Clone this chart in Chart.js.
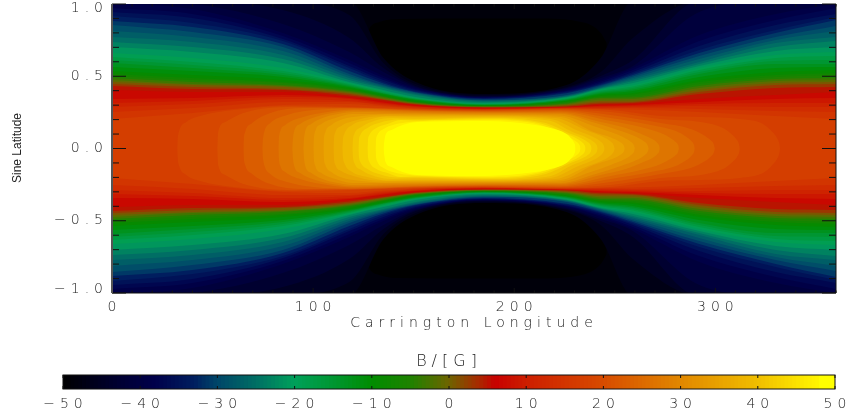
<!DOCTYPE html>
<html>
<head>
  <meta charset="UTF-8">
  <title>B / [G]</title>
  <script src="https://cdn.jsdelivr.net/npm/chart.js"></script>
  <style>
    html, body { margin: 0; padding: 0; background: #fff; overflow: hidden; }
    canvas { position: absolute; left: 0; }
    #mapChart { top: 0; }
    #barChart { top: 345px; }
  </style>
</head>
<body>
  <canvas id="mapChart" width="850" height="345"></canvas>
  <canvas id="barChart" width="850" height="67"></canvas>

  <script>
const lons = [0, 40, 85, 118, 135, 151, 185, 226, 243, 259, 292, 330, 360];

// B levels of the open contours, lat of the upper branch at each longitude
const openLevels = [-48, -46, -44, -42, -40, -38, -36, -34, -32, -30, -28, -26, -24, -22, -20, -18, -16,
  -14, -12, -10, -8, -6, -4, -2, 0, 2, 4, 6, 8, 10, 12, 14, 16];
const openLats = [
  [1.02, 1.02, 1.02, 1.02, .626, .46, .377, .439, .626, 1.02, 1.02, 1.02, 1.02],
  [1.02, 1.02, 1.014, .924, .592, .446, .37, .426, .529, .765, 1.02, 1.02, 1.02],
  [1.02, 1.02, .958, .765, .557, .433, .363, .419, .502, .612, 1.02, 1.02, 1.02],
  [1.02, 1.0, .862, .668, .529, .426, .36, .412, .488, .571, .945, 1.02, 1.02],
  [1.007, .965, .799, .612, .502, .419, .356, .405, .474, .557, .785, .931, 1.0],
  [.972, .931, .779, .592, .488, .412, .353, .399, .464, .543, .744, .889, .972],
  [.945, .903, .758, .571, .474, .405, .349, .394, .453, .529, .709, .855, .931],
  [.917, .869, .744, .557, .46, .398, .346, .388, .446, .519, .682, .82, .91],
  [.882, .841, .723, .536, .45, .391, .343, .383, .439, .509, .661, .799, .889],
  [.855, .806, .702, .516, .439, .388, .336, .37, .433, .498, .64, .772, .848],
  [.813, .772, .675, .502, .433, .384, .332, .366, .426, .488, .619, .751, .813],
  [.772, .737, .647, .488, .426, .377, .329, .362, .421, .477, .599, .73, .772],
  [.737, .702, .619, .474, .419, .37, .322, .358, .417, .467, .585, .702, .744],
  [.702, .668, .592, .46, .405, .356, .315, .354, .412, .453, .571, .675, .702],
  [.661, .626, .557, .453, .398, .349, .308, .349, .407, .439, .557, .647, .668],
  [.633, .599, .536, .446, .391, .346, .306, .345, .4, .429, .543, .626, .64],
  [.612, .578, .522, .439, .384, .343, .304, .341, .393, .419, .529, .606, .612],
  [.592, .557, .509, .433, .381, .339, .302, .337, .386, .408, .516, .585, .585],
  [.564, .536, .495, .426, .377, .336, .3, .333, .379, .398, .495, .557, .564],
  [.536, .509, .474, .419, .37, .329, .298, .329, .37, .384, .474, .529, .543],
  [.516, .488, .46, .412, .363, .325, .296, .323, .363, .374, .46, .509, .522],
  [.502, .474, .453, .405, .36, .322, .294, .318, .356, .363, .446, .495, .509],
  [.488, .46, .439, .398, .356, .318, .292, .312, .349, .353, .433, .481, .488],
  [.474, .446, .433, .391, .349, .315, .29, .307, .339, .343, .419, .467, .474],
  [.46, .439, .426, .384, .343, .311, .287, .301, .329, .332, .405, .453, .46],
  [.446, .426, .412, .377, .339, .308, .285, .296, .318, .322, .391, .439, .446],
  [.433, .412, .405, .367, .336, .304, .283, .289, .31, .315, .377, .419, .426],
  [.405, .391, .391, .356, .325, .301, .28, .287, .301, .308, .343, .37, .391],
  [.343, .349, .37, .349, .318, .294, .277, .285, .295, .301, .322, .343, .349],
  [.315, .329, .356, .343, .311, .291, .274, .283, .29, .294, .308, .315, .315],
  [.287, .308, .343, .329, .304, .287, .272, .281, .284, .287, .294, .287, .287],
  [.253, .28, .322, .322, .298, .28, .27, .279, .279, .28, .273, .26, .253],
  [.204, .246, .301, .308, .291, .277, .268, .277, .273, .27, .253, .225, .204]
];

// contours that close around the bright core, each with its own longitudes
const closedLevels = [18, 20, 22, 24, 26, 28, 30, 32, 34, 36, 38, 40, 42, 44, 46, 48];
const closedLons = [
  [32.4, 32.6, 33.4, 36.9, 43.8, 60.3, 90.1, 120, 150.4, 185.3, 223.1, 248, 272.9, 292.8, 312.2, 323.7, 328.4, 330.8, 331.8, 332.2],
  [52.3, 52.5, 52.8, 56.3, 65.3, 90.1, 120, 150.4, 185.3, 223.1, 248, 272.9, 292.8, 303.8, 308, 310.7, 311.8, 312.2],
  [65.3, 65.5, 66.2, 69.7, 78.7, 95.1, 120, 150.4, 185.3, 223.1, 248, 272.9, 287.8, 294.5, 297.4, 299.2, 299.8],
  [74.7, 75, 75.7, 78.7, 87.1, 100.1, 120, 150.4, 185.3, 223.1, 248, 268, 280.4, 285.7, 288.2, 289.4, 289.8],
  [82.7, 82.9, 83.7, 86.2, 95.1, 107.1, 120, 150.4, 185.3, 223.1, 248, 262.9, 272.9, 278, 280.3, 281.6, 281.9],
  [89.6, 89.9, 90.6, 93.6, 101.1, 111.1, 120, 150.4, 185.3, 223.1, 243, 255.5, 265.4, 269.3, 271.4, 272.2, 272.4],
  [95.1, 95.4, 96.1, 99.1, 106.1, 113.5, 120, 150.4, 185.3, 223.1, 240.5, 253, 260.9, 264.5, 266.3, 266.9],
  [100.1, 100.3, 101.1, 104.1, 111.1, 120, 150.4, 185.3, 223.1, 238, 248, 254.8, 258.1, 259.6, 260],
  [105.1, 105.3, 106.1, 109.1, 115, 120, 136, 150.4, 185.3, 223.1, 239.5, 248.3, 252.6, 254.5, 255],
  [110.1, 110.3, 111.1, 114, 120, 131, 150.4, 185.3, 220.6, 235.5, 244.3, 247.8, 249.4, 250],
  [114.5, 114.8, 115.5, 119.5, 127, 137, 150.4, 185.3, 218.1, 232, 239.3, 242.8, 244.4, 245],
  [119.5, 119.8, 120.5, 124, 131, 139.5, 150.4, 185.3, 217.1, 229, 236.1, 239.6, 241.1, 241.5],
  [122.5, 122.8, 123.5, 127, 133.5, 142, 150.4, 185.3, 215.6, 227, 233.6, 236.5, 238.1, 238.5],
  [127, 127.3, 128, 131.5, 137, 143.5, 150.4, 185.3, 214.1, 225, 231, 233.6, 235.1, 235.5],
  [131, 131.3, 132, 135.5, 140.5, 146, 150.4, 185.3, 213.1, 223.6, 228.4, 231.1, 232.6, 233],
  [135, 135.3, 136, 139, 142, 147, 152, 185.3, 210.6, 218.1, 226, 228.3, 229.8, 230.3, 230.5]
];
const closedLats = [
  [0, .059, .121, .183, .225, .266, .294, .287, .273, .266, .273, .266, .225, .218, .204, .17, .114, .07, .035, 0],
  [0, .059, .114, .183, .246, .287, .284, .27, .263, .27, .253, .204, .183, .142, .1, .06, .03, 0],
  [0, .059, .114, .176, .246, .28, .28, .266, .26, .266, .232, .176, .135, .09, .06, .03, 0],
  [0, .059, .114, .176, .232, .266, .277, .263, .256, .26, .211, .163, .121, .08, .05, .025, 0],
  [0, .059, .121, .163, .218, .253, .27, .26, .253, .253, .19, .149, .107, .07, .045, .02, 0],
  [0, .059, .121, .17, .218, .249, .263, .253, .248, .246, .183, .142, .087, .06, .035, .015, 0],
  [0, .059, .121, .17, .218, .242, .253, .246, .242, .239, .176, .121, .08, .05, .025, 0],
  [0, .059, .121, .17, .211, .239, .239, .237, .228, .163, .114, .075, .045, .02, 0],
  [0, .059, .114, .163, .204, .218, .235, .232, .232, .218, .114, .075, .045, .02, 0],
  [0, .059, .114, .156, .19, .221, .225, .226, .211, .128, .08, .05, .025, 0],
  [0, .059, .1, .163, .197, .221, .218, .221, .204, .121, .08, .05, .025, 0],
  [0, .059, .1, .149, .194, .211, .208, .217, .194, .114, .075, .045, .02, 0],
  [0, .059, .093, .142, .18, .201, .201, .211, .176, .107, .07, .045, .02, 0],
  [0, .059, .093, .142, .17, .197, .194, .204, .17, .107, .07, .045, .02, 0],
  [0, .059, .093, .138, .166, .18, .187, .197, .163, .1, .07, .045, .02, 0],
  [0, .038, .093, .128, .149, .173, .183, .19, .163, .142, .1, .07, .04, .02, 0]
];

// upper edge of the black hole near the pole, lower edge is the -48 contour
const holeLons = [126, 128, 133, 143, 185, 210, 235, 243, 246];
const holeLats = [.75, .83, .875, .896, .9, .9, .87, .8, .73];

// colour table
const cbValues = [-50, -42, -38, -33, -30, -25, -20, -15, -10, -5, 0, 4, 6, 10, 20, 30, 40, 47, 50];
const cbColors = [[0, 0, 0], [0, 0, 55], [0, 0, 75], [0, 30, 95], [0, 70, 105], [0, 110, 100], [0, 160, 90],
  [0, 150, 50], [0, 140, 0], [30, 130, 0], [110, 100, 0], [170, 40, 0], [200, 0, 0], [205, 30, 0],
  [215, 75, 0], [225, 135, 0], [240, 190, 0], [255, 240, 0], [255, 255, 0]];

const labelFont = { family: "'DejaVu Sans'", size: 14, weight: 200, lineHeight: "8px" };
const textColor = "#222";

function colorAt(v) {
  let i = 0;
  while (i < cbValues.length - 2 && v > cbValues[i + 1]) i++;
  const t = Math.min(1, Math.max(0, (v - cbValues[i]) / (cbValues[i + 1] - cbValues[i])));
  const c = cbColors[i].map((a, k) => Math.round(a + (cbColors[i + 1][k] - a) * t));
  return `rgb(${c[0]},${c[1]},${c[2]})`;
}

function fmt(v, digits) {
  return (v < 0 ? "\u2212" : "") + Math.abs(v).toFixed(digits);
}

// every band gets an upper and a lower edge, the fill goes between them
function band(xs, ys, color) {
  const up = xs.map((x, i) => ({ x: x, y: ys[i] }));
  const down = xs.map((x, i) => ({ x: x, y: -ys[i] }));
  return [
    { data: up, fill: "+1", backgroundColor: color },
    { data: down, fill: false, backgroundColor: color }
  ];
}

// hole first, then outward in to the core
let datasets = band(holeLons, holeLats, "#000");
openLevels.forEach((lev, i) => {
  datasets = datasets.concat(band(lons, openLats[i], colorAt(lev + 1)));
});
closedLevels.forEach((lev, i) => {
  datasets = datasets.concat(band(closedLons[i], closedLats[i], colorAt(lev === 48 ? 50 : lev + 1)));
});
datasets.forEach((d, i) => {
  d.order = -i;
  d.borderColor = "rgba(0,0,0,0)";
  d.borderWidth = 0;
  d.pointRadius = 0;
  d.cubicInterpolationMode = "monotone";
});

const wideText = {
  id: "wideText",
  beforeDraw(chart) {
    chart.ctx.letterSpacing = "5px";
  }
};

const mapFrame = {
  id: "mapFrame",
  beforeDatasetsDraw(chart) {
    const a = chart.chartArea, ctx = chart.ctx;
    ctx.fillStyle = colorAt(-48.5);
    ctx.fillRect(a.left, a.top, a.width, a.height);
  },
  afterDatasetsDraw(chart) {
    const a = chart.chartArea, ctx = chart.ctx;
    const xs = chart.scales.x, ys = chart.scales.y;
    ctx.save();
    ctx.strokeStyle = "#111";
    ctx.lineWidth = 1;
    ctx.beginPath();
    for (let v = 0; v <= 360; v += 10) {
      const len = v % 100 === 0 ? 5 : 2.5;
      const px = xs.getPixelForValue(v);
      ctx.moveTo(px, a.top); ctx.lineTo(px, a.top + len);
      ctx.moveTo(px, a.bottom); ctx.lineTo(px, a.bottom - len);
    }
    for (let k = -10; k <= 10; k++) {
      const len = k % 5 === 0 ? 14 : 7;
      const py = ys.getPixelForValue(k / 10);
      ctx.moveTo(a.left, py); ctx.lineTo(a.left + len, py);
      ctx.moveTo(a.right, py); ctx.lineTo(a.right - len, py);
    }
    ctx.moveTo(a.right, a.top); ctx.lineTo(a.right, a.bottom);
    ctx.moveTo(a.left, a.bottom); ctx.lineTo(a.right, a.bottom);
    ctx.stroke();
    ctx.strokeStyle = "#555";
    ctx.lineWidth = 2;
    ctx.beginPath();
    ctx.moveTo(a.left, a.top); ctx.lineTo(a.left, a.bottom);
    ctx.stroke();
    ctx.restore();
  },
  afterDraw(chart) {
    const ctx = chart.ctx;
    ctx.save();
    ctx.letterSpacing = "0px";
    ctx.fillStyle = textColor;
    ctx.font = "12px 'Liberation Sans'";
    ctx.textAlign = "center";
    ctx.textBaseline = "middle";
    ctx.translate(18, 148);
    ctx.rotate(-Math.PI / 2);
    ctx.fillText("Sine Latitude", 0, 0);
    ctx.restore();
  }
};

new Chart(document.getElementById("mapChart"), {
  type: "line",
  data: { datasets: datasets },
  plugins: [wideText, mapFrame],
  options: {
    responsive: false,
    animation: false,
    events: [],
    layout: { padding: { top: 4, right: 14, bottom: 0, left: 0 } },
    plugins: { legend: { display: false }, tooltip: { enabled: false } },
    scales: {
      x: {
        type: "linear",
        min: 0,
        max: 360,
        afterFit: s => { s.height = 52; s.paddingLeft = 0; s.paddingRight = 0; },
        grid: { display: false, drawTicks: false },
        border: { display: false },
        ticks: { stepSize: 100, includeBounds: false, maxRotation: 0, padding: 10, labelOffset: 2.5, color: textColor, font: labelFont },
        title: { display: true, text: "Carrington Longitude", color: textColor, font: labelFont, padding: { top: 0, bottom: 18 } }
      },
      y: {
        min: -1,
        max: 1,
        afterFit: s => { s.width = 112; s.paddingTop = 0; s.paddingBottom = 0; },
        grid: { display: false, drawTicks: false },
        border: { display: false },
        ticks: {
          stepSize: 0.5,
          padding: 4,
          color: textColor,
          font: labelFont,
          // the end labels sit a little inside the frame
          callback: v => v === 1 ? ["", fmt(v, 1)] : v === -1 ? [fmt(v, 1), ""] : fmt(v, 1)
        }
      }
    }
  }
});

// colour bar: each bar runs from its level up to 50, later ones paint over
const barDatasets = [];
for (let lev = -50, i = 0; lev < 50; lev += 0.5, i++) {
  barDatasets.push({
    data: [[lev, 50]],
    backgroundColor: colorAt(lev >= 48 ? 50 : lev + 0.25),
    barPercentage: 1,
    categoryPercentage: 1,
    grouped: false,
    order: -i
  });
}

const barFrame = {
  id: "barFrame",
  afterDatasetsDraw(chart) {
    const a = chart.chartArea, ctx = chart.ctx;
    ctx.save();
    ctx.strokeStyle = "#111";
    ctx.lineWidth = 1;
    ctx.strokeRect(a.left, a.top, a.width, a.height);
    ctx.beginPath();
    for (let v = -50; v <= 50; v += 10) {
      const px = chart.scales.x.getPixelForValue(v);
      ctx.moveTo(px, a.top); ctx.lineTo(px, a.top + 3);
      ctx.moveTo(px, a.bottom); ctx.lineTo(px, a.bottom - 3);
    }
    ctx.stroke();
    ctx.restore();
  }
};

new Chart(document.getElementById("barChart"), {
  type: "bar",
  data: { labels: ["B"], datasets: barDatasets },
  plugins: [wideText, barFrame],
  options: {
    indexAxis: "y",
    responsive: false,
    animation: false,
    events: [],
    layout: { padding: { top: 0, right: 15, bottom: 0, left: 63 } },
    plugins: { legend: { display: false }, tooltip: { enabled: false } },
    scales: {
      x: {
        type: "linear",
        min: -50,
        max: 50,
        afterFit: s => { s.height = 23; s.paddingLeft = 0; s.paddingRight = 0; },
        grid: { display: false, drawTicks: false },
        border: { display: false },
        ticks: { stepSize: 10, maxRotation: 0, padding: 11, labelOffset: 2.5, color: textColor, font: labelFont, callback: v => fmt(v, 0) }
      },
      x2: {
        type: "linear",
        position: "top",
        min: -50,
        max: 50,
        afterFit: s => { s.height = 30; s.paddingLeft = 0; s.paddingRight = 0; },
        grid: { display: false, drawTicks: false },
        border: { display: false },
        ticks: { display: false },
        title: { display: true, text: "B/[G]", color: textColor, font: { family: "'DejaVu Sans'", size: 16, weight: 200 }, padding: { top: 7, bottom: 0 } }
      },
      y: { display: false }
    }
  }
});
  </script>
</body>
</html>
